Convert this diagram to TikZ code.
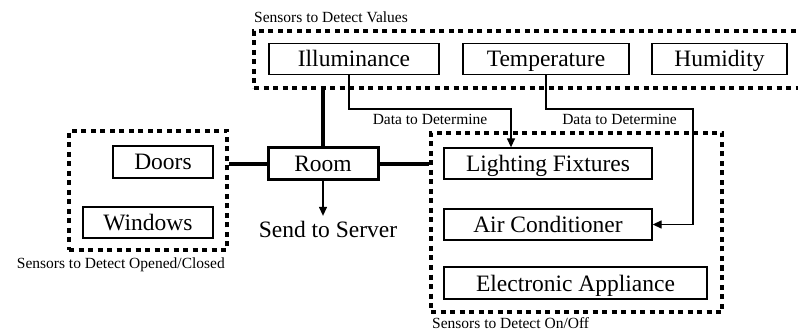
\documentclass[tikz,border=0pt]{standalone}
\usepackage{fontspec}
\setmainfont{Liberation Serif}
\usepackage{tikz}
\usetikzlibrary{arrows.meta, positioning}

\begin{document}
\begin{tikzpicture}[
    x=1pt, y=-1pt,
    box/.style={rectangle, draw, line width=1.3pt, inner sep=0pt, minimum height=31pt,
        text height=18pt, text depth=2pt, font=\fontsize{23.5}{26}\selectfont},
    roombox/.style={box, line width=3pt, minimum height=32pt},
    group/.style={rectangle, draw, line width=3.5pt, dash pattern=on 5pt off 4.5pt, inner sep=0pt},
    lbl/.style={inner sep=0pt, font=\fontsize{15.5}{17}\selectfont},
    link/.style={line width=4pt},
    flow/.style={line width=1.3pt, -{Triangle[length=9pt,width=8pt]}}
]
    \useasboundingbox (0,0) rectangle (798,331);
    \clip (0,0) rectangle (798,331);

    % Sensors to Detect Values
    \node[group, minimum width=551pt, minimum height=57pt] (valgrp) at (529.5,59.5) {};
    \node[lbl, anchor=base west] (vallbl) at (254,23) {Sensors to Detect Values};
    \node[box, minimum width=170pt] (illum) at (354,59) {Illuminance};
    \node[box, minimum width=166pt] (temp) at (546,59) {Temperature};
    \node[box, minimum width=135pt] (humid) at (719.5,59) {Humidity};

    % Sensors to Detect Opened/Closed
    \node[group, minimum width=158pt, minimum height=119pt] (doorgrp) at (148,190.5) {};
    \node[lbl, anchor=base east] (doorlbl) at (225,269) {Sensors to Detect Opened/Closed};
    \node[box, minimum width=100pt, minimum height=32pt] (doors) at (163,162) {Doors};
    \node[box, minimum width=130pt] (windows) at (148,222.5) {Windows};

    % Room
    \node[roombox, minimum width=110pt] (room) at (323,164) {Room};
    \node[box, draw=none, anchor=base] (server) at (328,237) {Send to Server};

    % Sensors to Detect On/Off
    \node[group, minimum width=291pt, minimum height=179pt] (onoffgrp) at (576.5,222.5) {};
    \node[lbl, anchor=base west] (onofflbl) at (432,328) {Sensors to Detect On/Off};
    \node[box, minimum width=208pt] (light) at (548,163.5) {Lighting Fixtures};
    \node[box, minimum width=208pt] (aircon) at (548,224.5) {Air Conditioner};
    \node[box, minimum width=263pt, minimum height=32pt] (elec) at (575.5,283) {Electronic Appliance};

    % Links
    \draw[link] (room.north) -- (room.north |- valgrp.south);
    \draw[link] (room.west) -- (room.west -| doorgrp.east);
    \draw[link] (room.east) -- (room.east -| onoffgrp.west);
    \draw[flow] (room.south) -- ([yshift=-3pt]room.south |- server.north);

    % Data flows
    \draw[flow] ([xshift=-5pt]illum.south) -- ++(0,34)
        -- node[lbl, below=4pt] {Data to Determine} ++(162,0) -- ([xshift=-37pt]light.north);
    \draw[flow] (temp.south) -- ++(0,34)
        -- node[lbl, below=4pt] {Data to Determine} ++(147,0) |- (aircon.east);
\end{tikzpicture}
\end{document}
